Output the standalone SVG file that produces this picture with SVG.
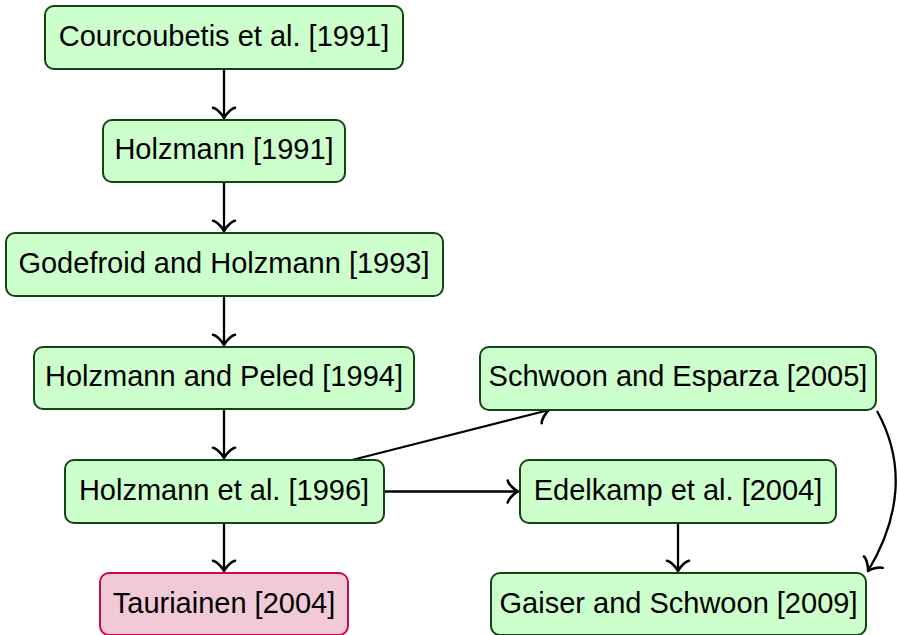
<svg xmlns="http://www.w3.org/2000/svg" width="897" height="635" viewBox="0 0 897 635">
  <style>
    .box { fill: #ccffcc; stroke: #124512; stroke-width: 2; }
    .box.hl { fill: #f2c9d7; stroke: #cc0a4a; }
    .lbl { font-family: "Liberation Sans", Arial, sans-serif; font-size: 29px; fill: #000; text-anchor: middle; }
    .edge { fill: none; stroke: #000; stroke-width: 2.3; marker-end: url(#to); }
  </style>
  <defs>
    <!-- curved "to" style arrow tip, tip at origin -->
    <marker id="to" markerUnits="userSpaceOnUse" viewBox="-13 -13 15 26" markerWidth="15" markerHeight="26" refX="0" refY="0" orient="auto" overflow="visible">
      <path d="M -10.3,11 C -9.6,6.9 -2.1,0.7 0,0 C -2.1,-0.7 -9.6,-6.9 -10.3,-11" fill="none" stroke="#000" stroke-width="2.6" stroke-linecap="round" stroke-linejoin="round"/>
    </marker>
  </defs>

  <g id="connectors">
    <line class="edge" x1="224" y1="69" x2="224" y2="118"/>
    <line class="edge" x1="224" y1="182" x2="224" y2="231"/>
    <line class="edge" x1="224" y1="296" x2="224" y2="345"/>
    <line class="edge" x1="224" y1="409" x2="224" y2="458"/>
    <line class="edge" x1="224" y1="523" x2="224" y2="571"/>
    <line class="edge" x1="352" y1="460" x2="549" y2="410"/>
    <line class="edge" x1="384" y1="491.5" x2="518" y2="491.5"/>
    <line class="edge" x1="678" y1="523" x2="678" y2="571"/>
    <path class="edge" d="M 877,411 C 906,463 900,518 868,571"/>
  </g>

  <g id="courcoubetis1991">
    <rect class="box" x="45" y="6" width="358" height="63" rx="9"/>
    <text class="lbl" x="224" y="46">Courcoubetis et al. [1991]</text>
  </g>
  <g id="holzmann1991">
    <rect class="box" x="103" y="120" width="242" height="62" rx="9"/>
    <text class="lbl" x="224" y="159">Holzmann [1991]</text>
  </g>
  <g id="godefroid1993">
    <rect class="box" x="6" y="233" width="437" height="63" rx="9"/>
    <text class="lbl" x="224" y="273">Godefroid and Holzmann [1993]</text>
  </g>
  <g id="holzmannpeled1994">
    <rect class="box" x="34" y="347" width="380" height="62" rx="9"/>
    <text class="lbl" x="224" y="386">Holzmann and Peled [1994]</text>
  </g>
  <g id="holzmann1996">
    <rect class="box" x="65" y="460" width="319" height="63" rx="9"/>
    <text class="lbl" x="224" y="500">Holzmann et al. [1996]</text>
  </g>
  <g id="tauriainen2004">
    <rect class="box hl" x="100" y="573" width="248" height="62" rx="9"/>
    <text class="lbl" x="224" y="613">Tauriainen [2004]</text>
  </g>
  <g id="schwoon2005">
    <rect class="box" x="480" y="347" width="396" height="63" rx="9"/>
    <text class="lbl" x="678" y="386">Schwoon and Esparza [2005]</text>
  </g>
  <g id="edelkamp2004">
    <rect class="box" x="520" y="460" width="316" height="63" rx="9"/>
    <text class="lbl" x="678" y="500">Edelkamp et al. [2004]</text>
  </g>
  <g id="gaiser2009">
    <rect class="box" x="491" y="573" width="375" height="62" rx="9"/>
    <text class="lbl" x="678.5" y="613">Gaiser and Schwoon [2009]</text>
  </g>
</svg>
